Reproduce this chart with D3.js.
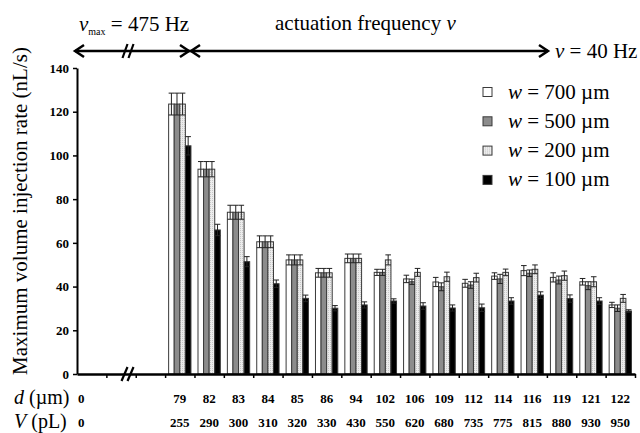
<!DOCTYPE html>
<html>
<head>
<meta charset="utf-8">
<script src="https://cdn.jsdelivr.net/npm/d3@7"></script>
<style>
  body { margin: 0; background: #fff; }
  svg text { font-family: "Times New Roman", "Liberation Serif", Times, serif; }
  .axis path, .axis line { stroke: #000; }
  .axis text { font-weight: bold; font-size: 13px; fill: #000; }
</style>
</head>
<body>
<div id="chart"></div>
<script>
'use strict';

// channel diameter d (um) and droplet volume V (pL) for each group
var diameters = [79, 82, 83, 84, 85, 86, 94, 102, 106, 109, 112, 114, 116, 119, 121, 122];
var volumes = [255, 290, 300, 310, 320, 330, 430, 550, 620, 680, 735, 775, 815, 880, 930, 950];

// max volume injection rate (nL/s) per width w
var w700 = [123.5, 93.7, 74.0, 60.5, 52.2, 46.3, 52.9, 46.5, 43.5, 42.1, 41.5, 44.8, 47.3, 44.2, 42.2, 31.6];
var w500 = [123.5, 93.7, 74.0, 60.5, 52.2, 46.3, 52.9, 46.5, 42.2, 39.9, 40.7, 43.5, 46.1, 43.0, 40.4, 30.1];
var w200 = [123.5, 93.7, 74.0, 60.5, 52.2, 46.3, 52.9, 52.2, 46.5, 44.5, 44.1, 46.5, 47.9, 45.0, 42.2, 34.6];
var w100 = [104.4, 65.9, 51.4, 41.3, 34.6, 30.1, 31.6, 33.4, 31.1, 30.2, 30.3, 33.4, 36.1, 34.5, 33.4, 28.8];

// error bars (+/-)
var err700 = [5.0, 3.5, 3.2, 2.7, 2.3, 2.0, 2.0, 1.4, 1.7, 2.1, 1.8, 1.5, 2.3, 2.1, 1.5, 1.2];
var err500 = [5.0, 3.5, 3.2, 2.7, 2.3, 2.0, 2.0, 1.4, 1.2, 1.8, 1.5, 2.1, 1.5, 1.8, 1.8, 1.5];
var err200 = [5.0, 3.5, 3.2, 2.7, 2.3, 2.0, 2.0, 2.3, 1.8, 2.1, 2.0, 1.5, 2.0, 2.1, 2.3, 1.8];
var err100 = [4.2, 2.6, 2.3, 1.7, 1.5, 1.2, 1.4, 1.0, 1.5, 1.4, 1.7, 1.5, 1.5, 1.7, 1.5, 0.6];

var seriesNames = ["700", "500", "200", "100"];
var yTicks = [0, 20, 40, 60, 80, 100, 120, 140];

var series = [
  {name: "700", values: w700, err: err700, fill: "#ffffff"},
  {name: "500", values: w500, err: err500, fill: "#8c8c8c"},
  {name: "200", values: w200, err: err200, fill: "#dedede"},
  {name: "100", values: w100, err: err100, fill: "#000000"}
];

var width = 640, height = 433;
var svg = d3.select("#chart").append("svg")
  .attr("width", width)
  .attr("height", height)
  .style("display", "block");

svg.append("rect").attr("width", width).attr("height", height).attr("fill", "#fff");

var plotLeft = 77, plotRight = 635, plotTop = 68, plotBottom = 374;

// three leading slots: the "0" position and the broken gap
var slots = ["0", "gapA", "gapB"].concat(diameters.map(String));

var x = d3.scaleBand().domain(slots).range([plotLeft, plotRight]);
var x1 = d3.scaleBand().domain(seriesNames)
  .range([x.bandwidth() * 0.12, x.bandwidth() * 0.88]);
var y = d3.scaleLinear().domain([0, 140]).range([plotBottom, plotTop]);
var tickScale = d3.scaleLinear().domain([0, slots.length]).range([plotLeft, plotRight]);

// stipple for the light bars
var defs = svg.append("defs");
var pat = defs.append("pattern").attr("id", "dots")
  .attr("width", 2).attr("height", 2).attr("patternUnits", "userSpaceOnUse");
pat.append("rect").attr("width", 2).attr("height", 2).attr("fill", "#ececec");
pat.append("rect").attr("width", 1).attr("height", 1).attr("fill", "#c8c8c8");
series[2].fill = "url(#dots)";

// bars
var groups = svg.append("g").selectAll("g")
  .data(series)
  .join("g");

groups.selectAll("rect")
  .data(function(s) {
    return s.values.map(function(v, i) { return {s: s, v: v, e: s.err[i], cat: String(diameters[i])}; });
  })
  .join("rect")
  .attr("x", function(d) { return x(d.cat) + x1(d.s.name); })
  .attr("y", function(d) { return y(d.v); })
  .attr("width", x1.bandwidth())
  .attr("height", function(d) { return y(0) - y(d.v); })
  .attr("fill", function(d) { return d.s.fill; })
  .attr("stroke", "#3a3a3a")
  .attr("stroke-width", 1);

// error bars
var eb = svg.append("g").attr("stroke", "#222").attr("stroke-width", 1).attr("fill", "none");
series.forEach(function(s) {
  s.values.forEach(function(v, i) {
    var cat = String(diameters[i]);
    var cx = x(cat) + x1(s.name) + x1.bandwidth() / 2;
    var hw = x1.bandwidth() / 2;
    var y0 = y(v - s.err[i]), y1 = y(v + s.err[i]);
    eb.append("line").attr("x1", cx).attr("x2", cx).attr("y1", y0).attr("y2", y1);
    eb.append("line").attr("x1", cx - hw).attr("x2", cx + hw).attr("y1", y1).attr("y2", y1);
    eb.append("line").attr("x1", cx - hw).attr("x2", cx + hw).attr("y1", y0).attr("y2", y0);
  });
});

// y axis
var yAxis = svg.append("g")
  .attr("class", "axis")
  .attr("transform", "translate(" + plotLeft + ",0)")
  .call(d3.axisLeft(y).tickValues(yTicks).tickSize(4).tickSizeOuter(0).tickPadding(4));
yAxis.select(".domain").attr("stroke-width", 2);
yAxis.selectAll(".tick line").attr("stroke-width", 1.5);
yAxis.attr("font-family", null);

// x axis, ticks between categories
var xAxis = svg.append("g")
  .attr("class", "axis")
  .attr("transform", "translate(0," + plotBottom + ")")
  .call(d3.axisBottom(tickScale).tickValues(d3.range(1, slots.length + 1)).tickSize(4).tickSizeOuter(0).tickFormat(""));
xAxis.select(".domain").attr("stroke-width", 2.5);
xAxis.selectAll(".tick line").attr("stroke-width", 1.5);

// axis break marks
function breakMark(cx, cy) {
  var g = svg.append("g");
  [-3, 3].forEach(function(dx) {
    g.append("line")
      .attr("x1", cx + dx - 3).attr("y1", cy + 7)
      .attr("x2", cx + dx + 3).attr("y2", cy - 7)
      .attr("stroke", "#000").attr("stroke-width", 2.2);
  });
}
breakMark(x("gapA") + x.bandwidth() * 0.72, plotBottom);

// y title
svg.append("text")
  .attr("transform", "translate(27,211) rotate(-90)")
  .attr("text-anchor", "middle")
  .attr("font-size", 21)
  .text("Maximum volume injection rate (nL/s)");

// category rows
function labelRow(yPos, sym, unit, vals) {
  var t = svg.append("text").attr("x", 14).attr("y", yPos).attr("font-size", 20);
  t.append("tspan").attr("font-style", "italic").text(sym);
  t.append("tspan").text(" (" + unit + ")");
  svg.append("text").attr("x", 78).attr("y", yPos - 1)
    .attr("font-size", 13).attr("font-weight", "bold").text("0");
  svg.append("g").selectAll("text")
    .data(vals)
    .join("text")
    .attr("x", function(d, i) { return x(String(diameters[i])) + x.bandwidth() / 2; })
    .attr("y", yPos - 1)
    .attr("text-anchor", "middle")
    .attr("font-size", 13)
    .attr("font-weight", "bold")
    .text(function(d) { return d; });
}
labelRow(404, "d", "\u00b5m", diameters);
labelRow(428, "V", "pL", volumes);

// legend
var legend = svg.append("g").attr("transform", "translate(483,92)");
var legendRows = legend.selectAll("g")
  .data(series)
  .join("g")
  .attr("transform", function(d, i) { return "translate(0," + (i * 29.3) + ")"; });
legendRows.append("rect")
  .attr("x", 0).attr("y", -4.5).attr("width", 9).attr("height", 9)
  .attr("fill", function(d) { return d.fill; })
  .attr("stroke", "#3a3a3a");
var lt = legendRows.append("text")
  .attr("x", 25).attr("y", 6.5).attr("font-size", 21);
lt.append("tspan").attr("font-style", "italic").text("w");
lt.append("tspan").text(function(d) { return " = " + d.name + " \u00b5m"; });

// frequency arrows on top
var arrowY = 51;
var ax0 = 75, axMid = 190, ax1 = 548;
var arr = svg.append("g").attr("stroke", "#000").attr("stroke-width", 2.5).attr("fill", "none");
arr.append("line").attr("x1", ax0).attr("x2", ax1).attr("y1", arrowY).attr("y2", arrowY);
function head(px, dir) {
  arr.append("path")
    .attr("d", "M" + (px - dir * 9) + "," + (arrowY - 6) + "L" + px + "," + arrowY + "L" + (px - dir * 9) + "," + (arrowY + 6));
}
head(ax0, -1);
head(axMid - 1, 1);
head(axMid + 1, -1);
head(ax1, 1);
(function() {
  var cx = 128;
  [-3, 3].forEach(function(dx) {
    svg.append("line")
      .attr("x1", cx + dx - 2.5).attr("y1", arrowY + 7)
      .attr("x2", cx + dx + 2.5).attr("y2", arrowY - 7)
      .attr("stroke", "#000").attr("stroke-width", 2.2);
  });
})();

var t1 = svg.append("text").attr("x", 79).attr("y", 31).attr("font-size", 21);
t1.append("tspan").attr("font-style", "italic").text("\u03bd");
t1.append("tspan").attr("font-size", 10).attr("dy", 4).text("max");
t1.append("tspan").attr("dy", -4).text(" = 475 Hz");

var t2 = svg.append("text").attr("x", 275).attr("y", 30).attr("font-size", 21);
t2.append("tspan").text("actuation frequency ");
t2.append("tspan").attr("font-style", "italic").text("\u03bd");

var t3 = svg.append("text").attr("x", 555).attr("y", 58).attr("font-size", 21);
t3.append("tspan").attr("font-style", "italic").text("\u03bd");
t3.append("tspan").text(" = 40 Hz");
</script>
</body>
</html>
